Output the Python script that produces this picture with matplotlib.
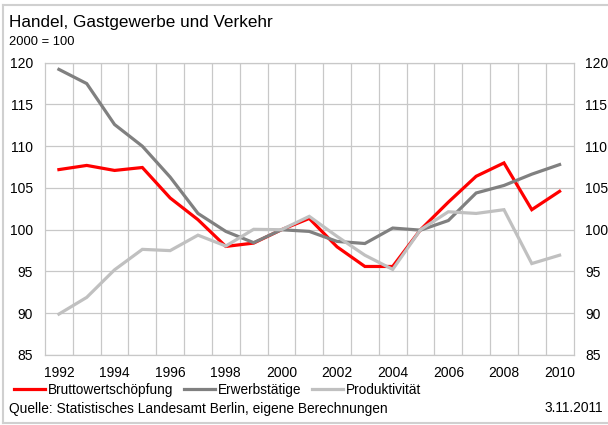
import matplotlib
matplotlib.use("Agg")
import matplotlib.pyplot as plt
from matplotlib.lines import Line2D

plt.rcParams['font.family'] = ['Liberation Sans', 'DejaVu Sans']

years = list(range(1992, 2011))
bruttowertschoepfung = [107.2, 107.7, 107.1, 107.45, 103.8, 101.2, 98.0, 98.4, 100.0, 101.35,
                        97.95, 95.6, 95.6, 100.0, 103.3, 106.4, 108.0, 102.4, 104.6]
erwerbstaetige = [119.2, 117.5, 112.6, 110.0, 106.3, 101.95, 99.8, 98.45, 100.0, 99.8,
                  98.6, 98.35, 100.2, 99.95, 101.1, 104.4, 105.3, 106.65, 107.8]
produktivitaet = [89.9, 91.9, 95.2, 97.65, 97.5, 99.35, 98.05, 100.05, 100.0, 101.6,
                  99.2, 96.95, 95.25, 100.0, 102.15, 101.95, 102.4, 95.95, 96.95]
series_names = ["Bruttowertschöpfung", "Erwerbstätige", "Produktivität"]
series_colors = ["#FF0000", "#808080", "#C0C0C0"]
y_ticks = [85, 90, 95, 100, 105, 110, 115, 120]
x_label_years = list(range(1992, 2011, 2))

W, H = 608, 425
fig = plt.figure(figsize=(W / 100, H / 100), dpi=100)
ax = fig.add_axes([45 / W, 1 - 355 / H, (573.5 - 45) / W, (355 - 62.7) / H])

grid_c = "#C8C8C8"
for vals, color in zip([bruttowertschoepfung, erwerbstaetige, produktivitaet], series_colors):
    ax.plot(years, vals, color=color, lw=2.3, solid_joinstyle='miter', zorder=3)

ax.set_xlim(years[0] - 0.5, years[-1] + 0.5)
ax.set_ylim(85, 120)
ax.set_yticks(y_ticks)
ax.set_xticks(x_label_years)
ax.set_xticks([y + 0.5 for y in years[:-1]], minor=True)
ax.grid(True, which='minor', axis='x', color=grid_c, lw=0.9)
ax.grid(True, which='major', axis='y', color=grid_c, lw=0.9)
ax.set_axisbelow(True)
ax.tick_params(axis='y', which='both', length=0, labelsize=10, pad=8.5,
               right=False, labelright=True)
ax.tick_params(axis='x', which='both', length=0, labelsize=10, pad=8)
for s in ax.spines.values():
    s.set_color(grid_c)
    s.set_linewidth(0.9)

# Title block
fig.text(9 / W, 1 - 22 / H, "Handel, Gastgewerbe und Verkehr", fontsize=12.3,
         va='center', ha='left')
fig.text(9 / W, 1 - 42 / H, "2000 = 100", fontsize=9.3, va='center', ha='left')

# Legend
handles = [Line2D([], [], color=c, lw=2.3) for c in series_colors]
fig.legend(handles, series_names, loc='center left', bbox_to_anchor=(14 / W, 1 - 390 / H),
           ncol=3, frameon=False, fontsize=9.8, handlelength=2.25, handletextpad=0.22,
           columnspacing=0.8, borderaxespad=0, borderpad=0)

# Footer
fig.text(9 / W, 1 - 408.5 / H, "Quelle: Statistisches Landesamt Berlin, eigene Berechnungen",
         fontsize=9.9, va='center', ha='left')
fig.text(603 / W, 1 - 408.5 / H, "3.11.2011", fontsize=9.9, va='center', ha='right')

# Frame around the figure (top, left, bottom)
frame_c = "#D0D0D0"
fig.add_artist(Line2D([3 / W, 1], [1 - 5 / H, 1 - 5 / H], color=frame_c, lw=1.5))
fig.add_artist(Line2D([3 / W, 3 / W], [1 - 5 / H, 1 - 423 / H], color=frame_c, lw=1.5))
fig.add_artist(Line2D([3 / W, 1], [1 - 423 / H, 1 - 423 / H], color=frame_c, lw=1.5))

fig.savefig("out.png", dpi=100)
